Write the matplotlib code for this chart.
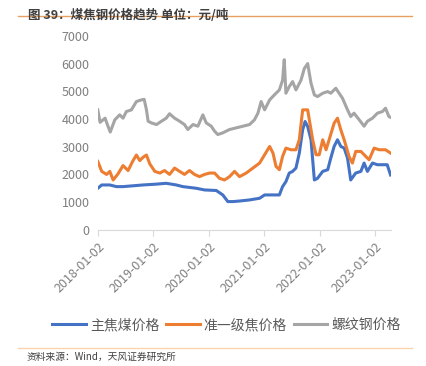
import matplotlib
matplotlib.use("Agg")
import matplotlib.pyplot as plt
import matplotlib.dates as mdates
import pandas as pd

plt.rcParams['font.family'] = ['Noto Sans CJK SC', 'DejaVu Sans']

# 螺纹钢价格
steel_dates = ["2018-01-02", "2018-01-17", "2018-02-19", "2018-03-10", "2018-03-25", "2018-04-24",
               "2018-05-26", "2018-06-17", "2018-07-09", "2018-08-11", "2018-09-13", "2018-10-16",
               "2018-11-03", "2018-11-18", "2018-11-29", "2018-12-20", "2019-01-23", "2019-02-25",
               "2019-03-28", "2019-04-19", "2019-05-22", "2019-06-24", "2019-07-26", "2019-08-17",
               "2019-09-20", "2019-10-22", "2019-11-24", "2019-12-16", "2020-01-18", "2020-02-09",
               "2020-03-01", "2020-04-03", "2020-05-17", "2020-06-30", "2020-08-13", "2020-09-26",
               "2020-10-28", "2020-11-20", "2020-12-11", "2021-01-03", "2021-02-05", "2021-03-08",
               "2021-04-10", "2021-05-01", "2021-05-12", "2021-05-23", "2021-06-14", "2021-07-06",
               "2021-07-28", "2021-08-30", "2021-09-21", "2021-10-13", "2021-11-04", "2021-11-26",
               "2021-12-17", "2022-01-20", "2022-02-22", "2022-03-14", "2022-04-16", "2022-05-08",
               "2022-05-30", "2022-07-02", "2022-07-23", "2022-08-14", "2022-09-17", "2022-10-19",
               "2022-11-10", "2022-12-13", "2023-01-15", "2023-02-17", "2023-03-09", "2023-03-31",
               "2023-04-11"]
steel = [4330, 3880, 4030, 3740, 3530, 3970,
         4150, 4030, 4270, 4330, 4630, 4690,
         4710, 4330, 3920, 3860, 3800, 3920,
         4030, 4190, 4030, 3920, 3800, 3620,
         3800, 3740, 4150, 3860, 3740, 3560,
         3440, 3500, 3620, 3680, 3740, 3800,
         3970, 4210, 4630, 4330, 4690, 4870,
         5050, 5400, 6140, 4930, 5170, 5350,
         5050, 5400, 5820, 6000, 5290, 4870,
         4810, 4930, 4990, 4930, 5110, 4930,
         4750, 4330, 4090, 4210, 3970, 3740,
         3920, 4030, 4210, 4270, 4390, 4090,
         4060]

# 准一级焦价格
coke_dates = ["2018-01-02", "2018-01-28", "2018-03-01", "2018-03-22", "2018-04-13", "2018-05-15",
              "2018-06-17", "2018-07-20", "2018-08-22", "2018-09-13", "2018-10-05", "2018-10-27",
              "2018-11-18", "2018-12-10", "2019-01-12", "2019-02-14", "2019-03-17", "2019-04-19",
              "2019-05-22", "2019-06-24", "2019-07-26", "2019-08-28", "2019-09-30", "2019-11-02",
              "2019-12-05", "2020-01-08", "2020-02-09", "2020-03-12", "2020-04-14", "2020-05-17",
              "2020-06-19", "2020-07-22", "2020-09-04", "2020-10-18", "2020-12-01", "2021-01-03",
              "2021-02-05", "2021-02-27", "2021-03-19", "2021-04-10", "2021-05-01", "2021-05-23",
              "2021-06-25", "2021-07-28", "2021-08-19", "2021-09-10", "2021-10-13", "2021-11-15",
              "2021-12-07", "2021-12-28", "2022-01-20", "2022-02-11", "2022-03-03", "2022-04-05",
              "2022-04-27", "2022-05-19", "2022-06-10", "2022-07-12", "2022-08-03", "2022-08-25",
              "2022-09-28", "2022-10-30", "2022-11-21", "2022-12-24", "2023-01-26", "2023-03-09",
              "2023-04-11"]
coke = [2470, 2110, 2000, 2110, 1800, 2020,
        2320, 2140, 2500, 2700, 2500, 2620,
        2700, 2380, 2110, 2050, 2140, 2000,
        2230, 2110, 2000, 2140, 2000, 1920,
        2000, 2050, 2050, 1860, 1800, 1920,
        2110, 1920, 2050, 2230, 2410, 2710,
        3010, 2770, 2290, 2170, 2650, 2950,
        2890, 2890, 3250, 4330, 4330, 3250,
        2710, 2710, 3250, 2890, 3250, 3850,
        4030, 3610, 3250, 2650, 2410, 2830,
        2830, 2650, 2530, 2950, 2890, 2890,
        2770]

# 主焦煤价格
coal_dates = ["2018-01-02", "2018-01-28", "2018-03-22", "2018-05-04", "2018-06-17", "2018-08-22",
              "2018-10-27", "2019-01-23", "2019-03-28", "2019-06-02", "2019-07-15", "2019-10-12",
              "2019-12-05", "2020-02-20", "2020-04-03", "2020-05-06", "2020-06-08", "2020-07-22",
              "2020-09-26", "2020-12-01", "2021-01-03", "2021-02-27", "2021-04-10", "2021-05-01",
              "2021-05-23", "2021-06-14", "2021-07-06", "2021-07-28", "2021-08-19", "2021-09-10",
              "2021-09-26", "2021-10-13", "2021-11-04", "2021-11-26", "2021-12-17", "2022-01-20",
              "2022-02-22", "2022-03-14", "2022-04-05", "2022-04-27", "2022-05-19", "2022-06-10",
              "2022-07-02", "2022-07-23", "2022-08-25", "2022-09-28", "2022-10-19", "2022-11-10",
              "2022-12-13", "2023-01-15", "2023-02-17", "2023-03-20", "2023-04-11"]
coal = [1500, 1620, 1620, 1560, 1560, 1590,
        1620, 1650, 1680, 1620, 1560, 1500,
        1440, 1420, 1260, 1020, 1020, 1040,
        1080, 1140, 1260, 1260, 1260, 1560,
        1740, 2050, 2110, 2230, 2770, 3610,
        3910, 3730, 3250, 1800, 1860, 2110,
        2170, 2590, 3010, 3250, 3010, 2950,
        2590, 1800, 2050, 2110, 2410, 2110,
        2410, 2350, 2350, 2350, 1980]

tick_dates = ["2018-01-02", "2019-01-02", "2020-01-02", "2021-01-02", "2022-01-02", "2023-01-02"]

fig = plt.figure(figsize=(4.27, 3.66), dpi=100)
ax = fig.add_axes([0.229, 0.372, 0.686, 0.53])

ax.plot(pd.to_datetime(coal_dates), coal, color="#4472C4", lw=2.2, label="主焦煤价格")
ax.plot(pd.to_datetime(coke_dates), coke, color="#ED7D31", lw=2.2, label="准一级焦价格")
ax.plot(pd.to_datetime(steel_dates), steel, color="#A5A5A5", lw=2.2, label="螺纹钢价格")

ax.set_ylim(0, 7000)
ax.set_yticks(range(0, 7001, 1000))
ax.set_xlim(pd.Timestamp("2018-01-02"), pd.Timestamp("2023-04-12"))
ax.set_xticks(pd.to_datetime(tick_dates))
ax.xaxis.set_major_formatter(mdates.DateFormatter("%Y-%m-%d"))
plt.setp(ax.get_xticklabels(), rotation=45, ha="right", rotation_mode="anchor")

for s in ["top", "right", "left"]:
    ax.spines[s].set_visible(False)
ax.spines["bottom"].set_color("#D9D9D9")
ax.tick_params(axis="y", length=0, labelsize=9, labelcolor="#7F7F7F", pad=6)
ax.tick_params(axis="x", length=4, color="#D9D9D9", labelsize=9, labelcolor="#7F7F7F")

ax.legend(loc="upper center", bbox_to_anchor=(0.44, -0.39), ncol=3, frameon=False,
          fontsize=10, labelcolor="#595959", handlelength=2.4, handletextpad=0.3,
          columnspacing=0.5)

fig.text(0.066, 0.975, "图 39：煤焦钢价格趋势 单位：元/吨", fontsize=9, fontweight="bold",
         color="#404040", va="top")
fig.add_artist(plt.Line2D([0.042, 0.965], [0.955, 0.955], color="#E8A060", lw=1))
fig.add_artist(plt.Line2D([0.042, 0.965], [0.05, 0.05], color="#FAD3B0", lw=1))
fig.text(0.063, 0.025, "资料来源：Wind，天风证券研究所", fontsize=7, color="#404040", va="center")

fig.savefig("out.png", dpi=100)
